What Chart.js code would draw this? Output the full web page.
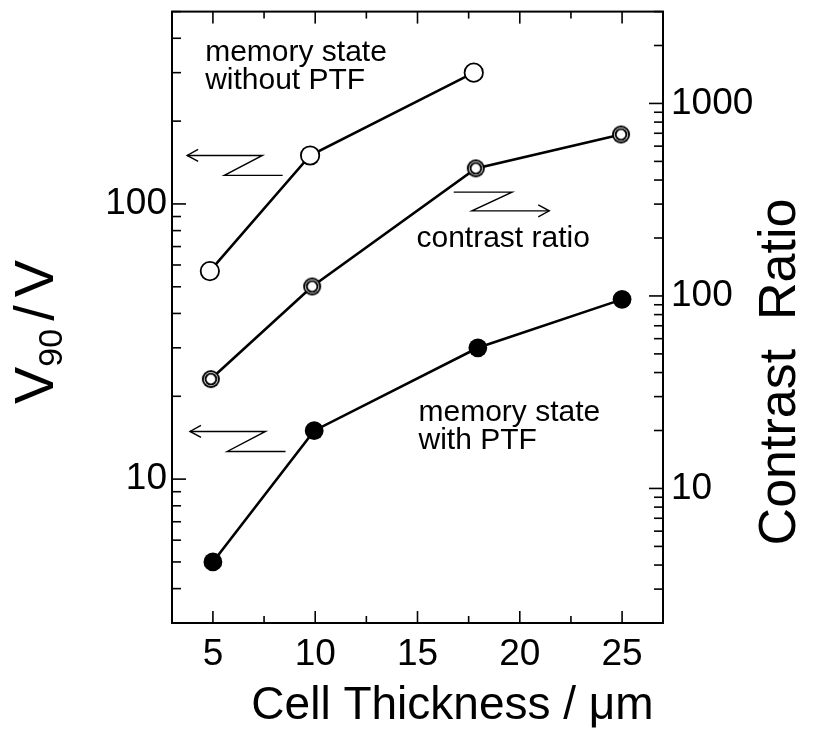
<!DOCTYPE html>
<html><head><meta charset="utf-8">
<script src="https://cdn.jsdelivr.net/npm/chart.js@4.4.0/dist/chart.umd.min.js"></script>
<style>html,body{margin:0;padding:0;background:#fff;} canvas{display:block;}</style>
</head><body>
<canvas id="c" width="825" height="739"></canvas>
<script>
// ---- data ----
const thicknessWithoutPTF = [4.85, 9.75, 17.75];
const v90WithoutPTF = [57, 150, 300];
const thicknessContrast = [4.9, 9.85, 17.85, 24.95];
const contrastRatio = [37, 112, 460, 690];
const thicknessWithPTF = [5.0, 9.95, 17.95, 25.0];
const v90WithPTF = [5.0, 15.0, 30, 45];
// ---- tick labels ----
const xTickLabels = [5, 10, 15, 20, 25];
const leftTickLabels = [10, 100];
const rightTickLabels = [10, 100, 1000];

const FONT = '"Liberation Sans", Arial, Helvetica, sans-serif';
Chart.defaults.font.family = FONT;
Chart.defaults.color = '#000';

function ringImg(){
  const c=document.createElement('canvas'); c.width=c.height=22;
  const g=c.getContext('2d');
  const r=(rad,col)=>{g.beginPath();g.arc(11,11,rad,0,Math.PI*2);g.fillStyle=col;g.fill();};
  r(9.0,'#000'); r(7.1,'#fff'); r(6.3,'#000'); r(4.4,'#fff');
  return c;
}
const pts = (xs, ys) => xs.map((x,i)=>({x:x, y:ys[i]}));

const decor = {
  id:'decor',
  beforeDatasetsDraw(chart){
    const {ctx, chartArea:a, scales} = chart;
    const sx=scales.x, sl=scales.y, sr=scales.y2;
    ctx.save();
    ctx.strokeStyle='#000'; ctx.lineWidth=2;
    ctx.strokeRect(a.left, a.top, a.right-a.left, a.bottom-a.top);
    ctx.lineWidth=1.6;
    const line=(x1,y1,x2,y2)=>{ctx.beginPath();ctx.moveTo(x1,y1);ctx.lineTo(x2,y2);ctx.stroke();};
    for(let v=5; v<=25; v+=2.5){
      const major = (v%5===0); const L = major?12:7; const px=sx.getPixelForValue(v);
      line(px,a.bottom,px,a.bottom-L);
      line(px,a.top,px,a.top+L);
    }
    for(let d=1; d<=100; d*=10){
      for(let m=1; m<=9; m++){
        const v=d*m; if(v<sl.min||v>sl.max) continue;
        const L=(m===1)?14:9; const py=sl.getPixelForValue(v);
        line(a.left,py,a.left+L,py);
      }
    }
    for(let d=1; d<=1000; d*=10){
      for(let m=1; m<=9; m++){
        const v=d*m; if(v<sr.min||v>sr.max) continue;
        const L=(m===1)?14:9; const py=sr.getPixelForValue(v);
        line(a.right,py,a.right-L,py);
      }
    }
    ctx.lineWidth=1.4;
    const P=(x,y)=>[sx.getPixelForValue(x), sl.getPixelForValue(y)];
    const zArrow=(p, headAtStart)=>{
      const q=p.map(e=>P(e[0],e[1]));
      ctx.beginPath(); ctx.moveTo(q[0][0],q[0][1]);
      for(let i=1;i<q.length;i++) ctx.lineTo(q[i][0],q[i][1]);
      ctx.stroke();
      const h = headAtStart? q[0] : q[q.length-1];
      const dir = headAtStart? 1 : -1;
      ctx.beginPath();
      ctx.moveTo(h[0]+dir*11,h[1]-6); ctx.lineTo(h[0],h[1]); ctx.lineTo(h[0]+dir*11,h[1]+6);
      ctx.stroke();
    };
    zArrow([[3.74,150],[7.42,150],[5.56,127],[8.41,127]], true);
    zArrow([[3.88,14.9],[7.57,14.9],[5.70,12.6],[8.55,12.6]], true);
    zArrow([[16.77,110.4],[19.62,110.4],[17.66,94.4],[21.44,94.4]], false);
    ctx.fillStyle='#000'; ctx.font='30px '+FONT; ctx.textAlign='left'; ctx.textBaseline='alphabetic';
    const T=(s,x,y)=>{const p=P(x,y); ctx.fillText(s,p[0],p[1]);};
    // annotation anchors (x value, left-axis value) at text baselines
    T('memory state',4.62,330); T('without PTF',4.62,261);
    T('contrast ratio',14.95,70.0);
    T('memory state',15.05,16.3); T('with PTF',15.05,12.9);
    // axis titles
    const cx=(a.left+a.right)/2;
    ctx.font='46px '+FONT; ctx.textAlign='center';
    ctx.fillText('Cell Thickness / \u03bcm', cx+35, 719);
    ctx.font='52px '+FONT;
    ctx.save(); ctx.translate(795, 372); ctx.rotate(-Math.PI/2);
    ctx.fillText('Contrast  Ratio', 0, 0); ctx.restore();
    // V90/V
    ctx.save(); ctx.translate(53, 332); ctx.rotate(-Math.PI/2);
    ctx.textAlign='left';
    const big='56px '+FONT, small='34px '+FONT;
    ctx.font=big; const wV=ctx.measureText('V').width; const wS=ctx.measureText('/').width;
    ctx.font=small; const w90=ctx.measureText('90').width;
    const gap=8;
    const tot=wV+w90+gap+wS+gap+wV; let x0=-tot/2;
    ctx.font=big; ctx.fillText('V',x0,0); x0+=wV;
    ctx.font=small; ctx.fillText('90',x0,9); x0+=w90+gap;
    ctx.font=big; ctx.fillText('/',x0,0); x0+=wS+gap;
    ctx.fillText('V',x0,0);
    ctx.restore();
    ctx.restore();
  }
};

new Chart(document.getElementById('c'), {
  type:'line',
  data:{datasets:[
    {label:'memory state without PTF', data:pts(thicknessWithoutPTF,v90WithoutPTF), yAxisID:'y',
     borderColor:'#000', borderWidth:2.6, pointRadius:9.2, pointBorderWidth:1.8,
     pointBackgroundColor:'#fff', pointBorderColor:'#000', tension:0},
    {label:'contrast ratio', data:pts(thicknessContrast,contrastRatio), yAxisID:'y2',
     borderColor:'#000', borderWidth:2.6, pointStyle:ringImg(), pointRadius:9, tension:0},
    {label:'memory state with PTF', data:pts(thicknessWithPTF,v90WithPTF), yAxisID:'y',
     borderColor:'#000', borderWidth:2.6, pointRadius:9.4, pointBorderWidth:0,
     pointBackgroundColor:'#000', pointBorderColor:'#000', tension:0}
  ]},
  options:{
    responsive:false, animation:false, devicePixelRatio:1,
    layout:{padding:{top:8,left:0,right:0,bottom:0}},
    plugins:{legend:{display:false}, tooltip:{enabled:false}},
    scales:{
      x:{type:'linear', min:3, max:27,
        afterBuildTicks:s=>{s.ticks=xTickLabels.map(v=>({value:v}));},
        afterFit:s=>{s.height=116; s.paddingLeft=0; s.paddingRight=0;},
        grid:{display:false, drawTicks:false}, border:{display:false},
        ticks:{font:{size:37}, color:'#000', padding:10, maxRotation:0, autoSkip:false}},
      y:{type:'logarithmic', position:'left', min:3, max:500,
        afterBuildTicks:s=>{s.ticks=leftTickLabels.map(v=>({value:v}));},
        afterFit:s=>{s.width=172; s.paddingTop=0; s.paddingBottom=0;},
        grid:{display:false, drawTicks:false}, border:{display:false},
        ticks:{font:{size:37}, color:'#000', padding:5, autoSkip:false, callback:v=>String(v)}},
      y2:{type:'logarithmic', position:'right', min:2, max:3000,
        afterBuildTicks:s=>{s.ticks=rightTickLabels.map(v=>({value:v}));},
        afterFit:s=>{s.width=162; s.paddingTop=0; s.paddingBottom=0;},
        grid:{display:false, drawTicks:false}, border:{display:false},
        ticks:{font:{size:37}, color:'#000', padding:8, autoSkip:false, callback:v=>String(v)}}
    }
  },
  plugins:[decor]
});
</script>
</body></html>
